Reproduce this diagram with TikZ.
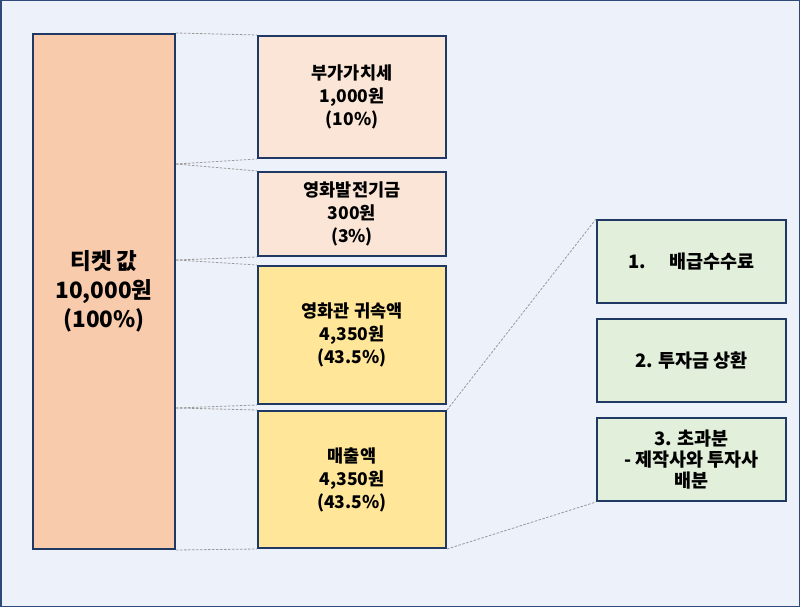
\documentclass[tikz,border=0pt]{standalone}
\usepackage{fontspec}
\setmainfont{Noto Sans CJK KR}
\usepackage{tikz}
\usetikzlibrary{positioning}
\definecolor{tkframe}{HTML}{2F4A78}
\definecolor{tkbg}{HTML}{EDF1F9}
\definecolor{tknavy}{HTML}{1F3864}
\definecolor{tkpeach}{HTML}{F8CBAD}
\definecolor{tkpale}{HTML}{FBE5D6}
\definecolor{tkyellow}{HTML}{FFE699}
\definecolor{tkgreen}{HTML}{E2EFDA}

\begin{document}
\begin{tikzpicture}[x=1pt, y=-1pt,
  box/.style={draw=tknavy, line width=2pt, align=center, inner sep=2pt,
    font=\fontsize{17.5}{23}\selectfont\bfseries},
  step3/.style={box, fill=tkgreen, minimum width=189pt, minimum height=83pt,
    font=\fontsize{18.5}{21}\selectfont\bfseries},
  guide/.style={gray!80, line width=0.8pt, dash pattern=on 2.5pt off 1.5pt}]
\useasboundingbox (0,0) rectangle (800,607);
\draw[tkframe, fill=tkbg, line width=1.5pt] (0.75,0.75) rectangle (799.25,606.25);
% ticket price
\node[box, fill=tkpeach, minimum width=142pt, minimum height=515pt,
  font=\fontsize{22.5}{29}\selectfont\bfseries] (ticket) at (104,291.5)
  {티켓 값\\10,000원\\(100\%)};
% split of the ticket
\node[box, fill=tkpale, minimum width=188pt, minimum height=122pt] (vat) at (352,97)
  {부가가치세\\1,000원\\(10\%)};
\node[box, fill=tkpale, minimum width=188pt, minimum height=84pt] (fund) at (352,214)
  {영화발전기금\\300원\\(3\%)};
\node[box, fill=tkyellow, minimum width=188pt, minimum height=138pt] (theater) at (352,335)
  {영화관 귀속액\\4,350원\\(43.5\%)};
\node[box, fill=tkyellow, minimum width=188pt, minimum height=137pt] (sales) at (352,479.5)
  {매출액\\4,350원\\(43.5\%)};
% where the sales go
\node[step3] (fee) at (691.5,261.5) {1.\quad\ 배급수수료};
\node[step3, below=14pt of fee] (repay) {2. 투자금 상환};
\node[step3, below=14pt of repay] (excess) {3. 초과분\\- 제작사와 투자사\\배분};
\coordinate (cut1) at (ticket.north east |- 0,164);
\coordinate (cut2) at (ticket.north east |- 0,260);
\coordinate (cut3) at (ticket.north east |- 0,408);
\draw[guide] (ticket.north east) -- (vat.north west);
\draw[guide] (cut1) -- (vat.south west);
\draw[guide] (cut1) -- (fund.north west);
\draw[guide] (cut2) -- (fund.south west);
\draw[guide] (cut2) -- (theater.north west);
\draw[guide] (cut3) -- (theater.south west);
\draw[guide] (cut3) -- (sales.north west);
\draw[guide] (ticket.south east) -- (sales.south west);
\draw[guide] (sales.north east) -- (fee.north west);
\draw[guide] (sales.south east) -- (excess.south west);
\end{tikzpicture}
\end{document}
